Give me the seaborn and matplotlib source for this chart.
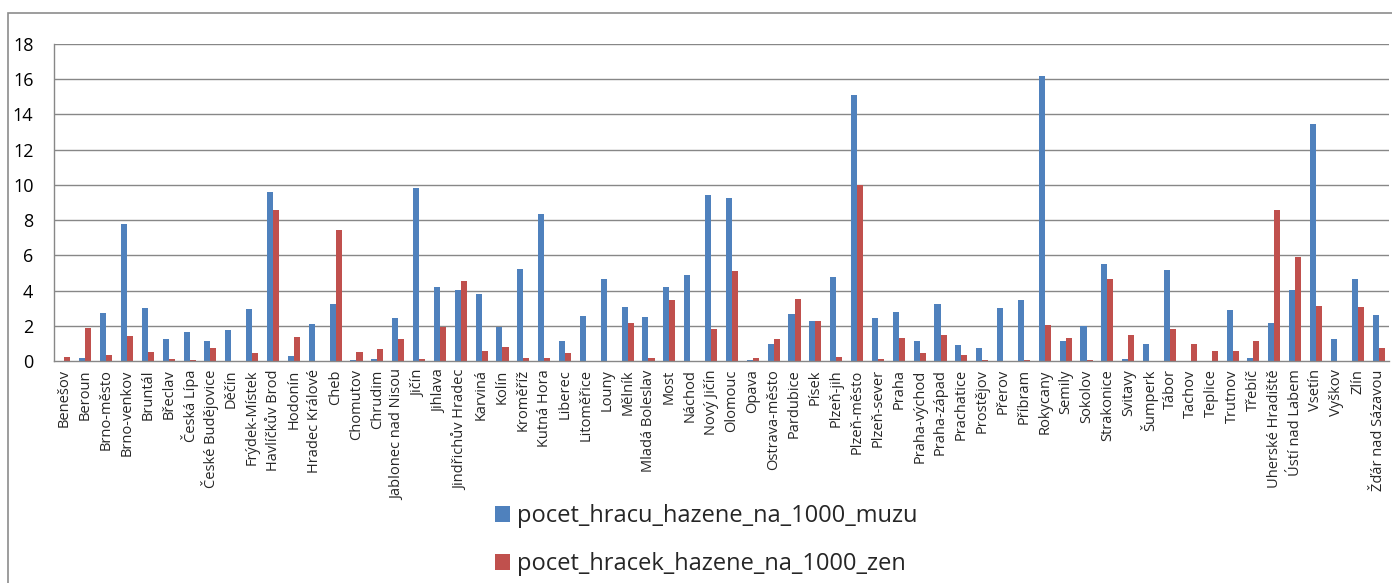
import matplotlib
matplotlib.use("Agg")
import matplotlib.pyplot as plt
from matplotlib.patches import Patch, Rectangle
import numpy as np
import pandas as pd
import seaborn as sns

districts = ["Benešov", "Beroun", "Brno-město", "Brno-venkov", "Bruntál", "Břeclav",
             "Česká Lípa", "České Budějovice", "Děčín", "Frýdek-Místek", "Havlíčkův Brod",
             "Hodonín", "Hradec Králové", "Cheb", "Chomutov", "Chrudim", "Jablonec nad Nisou",
             "Jičín", "Jihlava", "Jindřichův Hradec", "Karviná", "Kolín", "Kroměříž",
             "Kutná Hora", "Liberec", "Litoměřice", "Louny", "Mělník", "Mladá Boleslav",
             "Most", "Náchod", "Nový Jičín", "Olomouc", "Opava", "Ostrava-město",
             "Pardubice", "Písek", "Plzeň-jih", "Plzeň-město", "Plzeň-sever", "Praha",
             "Praha-východ", "Praha-západ", "Prachatice", "Prostějov", "Přerov", "Příbram",
             "Rokycany", "Semily", "Sokolov", "Strakonice", "Svitavy", "Šumperk", "Tábor",
             "Tachov", "Teplice", "Trutnov", "Třebíč", "Uherské Hradiště", "Ústí nad Labem",
             "Vsetín", "Vyškov", "Zlín", "Žďár nad Sázavou"]

muzi = [0.0, 0.15, 2.73, 7.78, 3.01, 1.27, 1.63, 1.14, 1.74, 2.97, 9.58,
        0.28, 2.10, 3.24, 0.04, 0.09, 2.44, 9.81, 4.20, 4.05, 3.79, 1.91, 5.23,
        8.33, 1.12, 2.56, 4.66, 3.07, 2.50, 4.20, 4.91, 9.41, 9.24, 0.04, 0.95,
        2.69, 2.25, 4.77, 15.11, 2.44, 2.77, 1.14, 3.26, 0.91, 0.76, 2.99, 3.45,
        16.17, 1.14, 2.01, 5.51, 0.09, 0.97, 5.15, 0.0, 0.0, 2.88, 0.17, 2.14,
        4.03, 13.48, 1.23, 4.66, 2.63]

zeny = [0.21, 1.88, 0.36, 1.42, 0.52, 0.11, 0.04, 0.72, 0.0, 0.44, 8.56,
        1.38, 0.0, 7.44, 0.51, 0.70, 1.27, 0.13, 1.91, 4.53, 0.57, 0.78, 0.19,
        0.17, 0.44, 0.0, 0.0, 2.14, 0.15, 3.47, 0.0, 1.82, 5.09, 0.17, 1.23,
        3.50, 2.27, 0.25, 10.02, 0.11, 1.31, 0.45, 1.48, 0.32, 0.04, 0.0, 0.04,
        2.05, 1.29, 0.04, 4.66, 1.46, 0.0, 1.82, 0.97, 0.57, 0.57, 1.12, 8.56,
        5.93, 3.11, 0.0, 3.05, 0.76]

series_names = ["pocet_hracu_hazene_na_1000_muzu", "pocet_hracek_hazene_na_1000_zen"]
colors = ["#4F81BD", "#C0504D"]
y_ticks = [0, 2, 4, 6, 8, 10, 12, 14, 16, 18]

df = pd.DataFrame({
    "okres": districts * 2,
    "serie": [series_names[0]] * len(districts) + [series_names[1]] * len(districts),
    "hodnota": muzi + zeny,
})

sns.set_style("white")
plt.rcParams["font.family"] = ["Open Sans", "DejaVu Sans"]

W, H = 1392, 583
fig = plt.figure(figsize=(W / 100, H / 100), dpi=100)
ax = fig.add_axes([54 / W, 1 - 361 / H, (1389 - 54) / W, (361 - 44) / H])

sns.barplot(data=df, x="okres", y="hodnota", hue="serie", order=districts,
            hue_order=series_names, palette=colors, width=0.58, ax=ax,
            legend=False, linewidth=0, saturation=1)

grid_c = "#878787"
ax.set_ylim(0, 18)
ax.set_xlim(-0.5, len(districts) - 0.5)
ax.set_yticks(y_ticks)
ax.set_yticklabels([str(v) for v in y_ticks], fontsize=13)
for v in y_ticks[1:]:
    ax.axhline(v, color=grid_c, lw=1.0, zorder=0)
ax.set_axisbelow(True)
ax.tick_params(axis="y", direction="out", length=4.3, width=1.0, color=grid_c,
               pad=10.5, labelcolor="black")

ax.set_xticks(np.arange(len(districts)))
ax.set_xticklabels(districts, rotation=90, fontsize=10.5, ha="center", va="top")
ax.tick_params(axis="x", which="major", length=0, pad=6)
ax.set_xticks(np.arange(len(districts) + 1) - 0.5, minor=True)
ax.tick_params(axis="x", which="minor", direction="out", length=4.3, width=1.0, color=grid_c)

ax.set_xlabel("")
ax.set_ylabel("")
for s in ["top", "right"]:
    ax.spines[s].set_visible(False)
for s in ["left", "bottom"]:
    ax.spines[s].set_color(grid_c)
    ax.spines[s].set_linewidth(1.0)

# outer chart frame
fig.patches.append(Rectangle((8 / W, -0.1), 1.2, 1 - 13 / H + 0.1, transform=fig.transFigure,
                             fill=False, edgecolor="#8c8c8c", lw=1.2, zorder=0))

handles = [Patch(facecolor=c, edgecolor="none") for c in colors]
fig.legend(handles, series_names, loc="upper left",
           bbox_to_anchor=(495 / W, 1 - 504 / H), frameon=False, fontsize=17,
           handlelength=0.65, handleheight=0.65, handletextpad=0.3,
           labelspacing=1.03, borderpad=0, borderaxespad=0)

fig.savefig("out.png", dpi=100)
